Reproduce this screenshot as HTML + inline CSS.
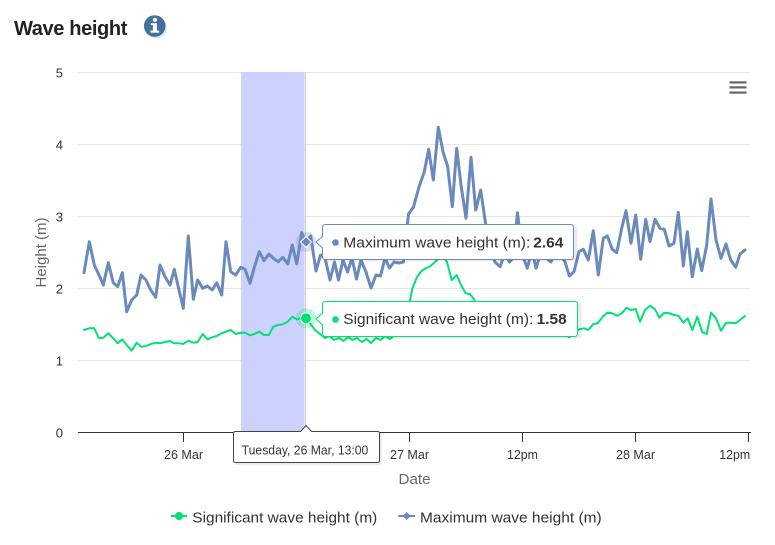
<!DOCTYPE html>
<html>
<head>
<meta charset="utf-8">
<style>
html,body{margin:0;padding:0;background:#fff;}
svg{display:block;font-family:"Liberation Sans",Arial,sans-serif;}
</style>
</head>
<body>
<svg width="775" height="545" viewBox="0 0 775 545" xmlns="http://www.w3.org/2000/svg">
<rect x="0" y="0" width="775" height="545" fill="#fff"/>

<!-- Title -->
<text x="14" y="35" font-size="20" font-weight="bold" fill="#222" letter-spacing="-0.4" textLength="113" lengthAdjust="spacingAndGlyphs">Wave height</text>
<!-- info icon -->
<circle cx="156" cy="27.5" r="10.8" fill="#000" opacity="0.12"/>
<circle cx="154.7" cy="26" r="10.8" fill="#41719c"/>
<circle cx="154.9" cy="19.8" r="2.1" fill="#fff"/>
<rect x="152.9" y="23.2" width="4" height="8.2" fill="#fff"/>
<rect x="150.8" y="23.2" width="3" height="1.8" fill="#fff"/>
<rect x="150.6" y="30.6" width="8.6" height="2.1" fill="#fff"/>

<!-- menu icon -->
<rect x="729.5" y="81.3" width="17" height="2.2" fill="#666"/>
<rect x="729.5" y="86.3" width="17" height="2.2" fill="#666"/>
<rect x="729.5" y="91.5" width="17" height="2.2" fill="#666"/>

<!-- gridlines -->
<g stroke="#e6e6e6" stroke-width="1">
<line x1="78" y1="72.5" x2="750" y2="72.5"/>
<line x1="78" y1="144.5" x2="750" y2="144.5"/>
<line x1="78" y1="216.5" x2="750" y2="216.5"/>
<line x1="78" y1="288.5" x2="750" y2="288.5"/>
<line x1="78" y1="360.5" x2="750" y2="360.5"/>
</g>

<!-- plot band -->
<rect x="241" y="72" width="63.5" height="360" fill="#ccd1fe"/>
<!-- crosshair -->
<line x1="305.5" y1="72" x2="305.5" y2="432" stroke="#cccccc" stroke-width="1"/>

<!-- y labels -->
<g font-size="13" fill="#333" text-anchor="end">
<text x="63" y="77.5">5</text>
<text x="63" y="149.5">4</text>
<text x="63" y="221.5">3</text>
<text x="63" y="293.5">2</text>
<text x="63" y="365.5">1</text>
<text x="63" y="437.5">0</text>
</g>
<text transform="translate(46,252.5) rotate(-90)" font-size="15" fill="#666" text-anchor="middle">Height (m)</text>

<!-- series: significant (green) -->
<polyline fill="none" stroke="#00e272" stroke-width="2" stroke-linejoin="round" stroke-linecap="round" points="84,330 89.3,328.3 94.3,328.3 99,338.3 103.3,337.7 108.3,333.3 113.3,338.3 117.7,343.3 122.3,339.3 126.7,345 131.7,350.7 136.7,342.7 141,346.7 146,346 150.7,344 155.7,342.7 160,343.3 165,342 170,341 174.3,343.3 179,343.3 183.3,344 188.3,340.7 193.3,342.7 197.7,342 202.7,334 207.3,339.3 212.3,337.3 216.7,336 221.7,333.3 226,331.7 230.7,330 235.7,334 240.7,332.7 245,332.7 250,335.3 254.3,334 259.3,331.7 264,335 269,335 273.3,326.7 278.3,325 282.7,324.3 287.7,321.7 292.3,316.7 296.7,319.3 301.7,318.3 306,318 310.5,324 315,330 320,334 325,338 329.5,336 334,340 339,338 343.5,341 348,337 352.5,340 357,338 362,342 366.5,339 371,343 376,338 380.5,340 385,336 390,339 394.5,335 399,332 403.5,326 408,310 412.5,288 417,277 421.5,271 426,268 430.5,266 435,262 439.5,258 444,257 447,262 451.7,280 456.7,275 461,285 465.7,293.3 470,294 475,300.7 480,310 485,318 490,322 495,326 500,324 505,328 510,325 515,330 520,327 525,331 530,328 535,332 540,329 545,333 550,330 555,334 560,331 565,335 569.3,337.3 574,333.3 579,329.3 584,328.3 588.3,330 593.3,324 597.7,323.3 602.7,316.7 607.3,312.7 612.3,313.3 617.3,315.7 621.7,313.3 626.7,307.7 631,310 635.7,309 640,321.7 645,310 650,305.7 655,309.3 659.3,317.7 664.3,312.7 669.3,313.3 674,315 678.3,315.7 683.3,322.7 687.7,318.3 692.3,330 697.3,316.7 702.3,332.3 706.7,334 711,312.7 716,318.3 721,330.7 726,322.7 730.7,322.7 735.7,323.3 740,320 745,316"/>

<!-- series: maximum (blue) -->
<polyline fill="none" stroke="#6b8abc" stroke-width="3" stroke-linejoin="round" stroke-linecap="round" points="84,272.7 89.3,241.7 94.3,265 99,275 103.3,285 108.3,262.7 113.3,282.7 117.7,286.7 122.3,272.7 126.7,311.7 131.7,300 136.7,295 141,275 146,280 150.7,290 155.7,297.3 160,265 165,276.7 170,285 174.3,269.3 179,290 183.3,308.3 188.3,236 193.3,299.3 197.7,280 202.7,288.3 207.3,286 212.3,290 216.7,282.7 221.7,295 226,241.7 230.7,271.7 235.7,275 240.7,267.3 245,269.3 250,283.3 254.3,267.3 259.3,251.7 264,260.7 269,254 273.3,258.3 278.3,261.7 282.7,257.3 287.7,264 292.3,245 296.7,264 301.7,232.7 306,242 310.7,236 316,271 320.5,255 325,258 330,280 334.5,262 338.5,280 343,260 347.5,272 352,258 356.5,279 361,260 366,272 371,288 376,275 380.5,276 385,258 389.5,268 394,262 399,263 403.5,262 408.5,214 413.5,207 419,187 424.3,171.7 428.7,149.3 433.3,180 438.3,127.3 443,151.7 447.7,166.7 452.3,206.7 456.7,148.3 461,185 466,218.3 471,157.3 475.7,210 480.7,190 485.5,223.3 490,250 495,262 500,266.7 505,253 509.5,262 513,258 517.5,212.7 522.5,255 527.3,268.3 532,250 536,268.3 541,252 546,258 551,262 555.5,250 560,255 565,261.7 569.3,276 574,271.7 579,251.7 583.3,249.3 588.3,260 593.3,230.7 598.3,275 603.3,238.3 607.3,236 612.3,249.3 616.7,252.7 621.7,228.3 626,210.7 631,243.3 635.7,215 640.7,259.3 645.7,219.3 650,241.7 655,219.3 660,228.3 664.3,229.3 669,246 674,243.3 678.3,212.3 683.3,266 687.3,231.7 692.3,276.7 697.3,249 701.7,270.7 706.7,245 711,199 716,240 721,258.3 726,244 730.7,260 735.7,267.3 740,254 745,250"/>

<!-- x axis -->
<line x1="78" y1="432.5" x2="751" y2="432.5" stroke="#333" stroke-width="1"/>
<g stroke="#333" stroke-width="1">
<line x1="183.5" y1="432" x2="183.5" y2="442"/>
<line x1="409.5" y1="432" x2="409.5" y2="442"/>
<line x1="522.5" y1="432" x2="522.5" y2="442"/>
<line x1="635.5" y1="432" x2="635.5" y2="442"/>
<line x1="748.5" y1="432" x2="748.5" y2="442"/>
</g>
<g font-size="13" fill="#333" text-anchor="middle">
<text x="183.5" y="459" textLength="39" lengthAdjust="spacingAndGlyphs">26 Mar</text>
<text x="409.5" y="459" textLength="39" lengthAdjust="spacingAndGlyphs">27 Mar</text>
<text x="522.5" y="459" textLength="31" lengthAdjust="spacingAndGlyphs">12pm</text>
<text x="635.5" y="459" textLength="39" lengthAdjust="spacingAndGlyphs">28 Mar</text>
<text x="734.7" y="459" textLength="31" lengthAdjust="spacingAndGlyphs">12pm</text>
</g>
<text x="414.5" y="484" font-size="15" fill="#666" text-anchor="middle" textLength="32" lengthAdjust="spacingAndGlyphs">Date</text>

<!-- hover markers -->
<circle cx="306" cy="242" r="10" fill="#6b8abc" opacity="0.25"/>
<path d="M306,236.5 L311.5,242 L306,247.5 L300.5,242 Z" fill="#6b8abc" stroke="#fff" stroke-width="1"/>
<circle cx="306" cy="318.2" r="10" fill="#00e272" opacity="0.25"/>
<circle cx="306" cy="318.2" r="5.5" fill="#00e272" stroke="#fff" stroke-width="1"/>

<!-- tooltip: max -->
<path d="M325.5,225.5 L573.5,225.5 Q576.5,225.5 576.5,228.5 L576.5,257.5 Q576.5,260.5 573.5,260.5 L325.5,260.5 Q322.5,260.5 322.5,257.5 L322.5,249 L316,243 L322.5,237.5 L322.5,228.5 Q322.5,225.5 325.5,225.5 Z" fill="#000" opacity="0.08" transform="translate(1,1)"/>
<path d="M325.5,224.5 L570.5,224.5 Q573.5,224.5 573.5,227.5 L573.5,256.5 Q573.5,259.5 570.5,259.5 L325.5,259.5 Q322.5,259.5 322.5,256.5 L322.5,248 L316,242 L322.5,236.5 L322.5,227.5 Q322.5,224.5 325.5,224.5 Z" fill="#fff" stroke="#6b8abc" stroke-width="1"/>
<circle cx="335.5" cy="242.5" r="3.3" fill="#6b8abc"/>
<text x="343.3" y="247.3" font-size="15" fill="#333" textLength="187" lengthAdjust="spacingAndGlyphs">Maximum wave height (m):</text>
<text x="533.3" y="247.3" font-size="15" font-weight="bold" fill="#333" textLength="30" lengthAdjust="spacingAndGlyphs">2.64</text>

<!-- tooltip: significant -->
<path d="M325.5,302.5 L577.5,302.5 Q580.5,302.5 580.5,305.5 L580.5,334.5 Q580.5,337.5 577.5,337.5 L325.5,337.5 Q322.5,337.5 322.5,334.5 L322.5,326 L316,320 L322.5,314 L322.5,305.5 Q322.5,302.5 325.5,302.5 Z" fill="#000" opacity="0.08" transform="translate(1,1)"/>
<path d="M325.5,301.5 L574.5,301.5 Q577.5,301.5 577.5,304.5 L577.5,333.5 Q577.5,336.5 574.5,336.5 L325.5,336.5 Q322.5,336.5 322.5,333.5 L322.5,325 L316,319 L322.5,313 L322.5,304.5 Q322.5,301.5 325.5,301.5 Z" fill="#fff" stroke="#00e272" stroke-width="1"/>
<circle cx="335.5" cy="319.5" r="3.3" fill="#00e272"/>
<text x="343.3" y="324" font-size="15" fill="#333" textLength="190" lengthAdjust="spacingAndGlyphs">Significant wave height (m):</text>
<text x="536.7" y="324" font-size="15" font-weight="bold" fill="#333" textLength="30" lengthAdjust="spacingAndGlyphs">1.58</text>

<!-- date tooltip -->
<path d="M236.5,432.5 L300.5,432.5 L306,426 L311.5,432.5 L379.5,432.5 Q381.5,432.5 381.5,434.5 L381.5,462.5 Q381.5,464.5 379.5,464.5 L236.5,464.5 Q234.5,464.5 234.5,462.5 L234.5,434.5 Q234.5,432.5 236.5,432.5 Z" fill="#000" opacity="0.08" transform="translate(0.5,0.5)"/>
<path d="M235.5,431.5 L300.5,431.5 L306,425.5 L311.5,431.5 L377.5,431.5 Q379.5,431.5 379.5,433.5 L379.5,460.5 Q379.5,462.5 377.5,462.5 L235.5,462.5 Q233.5,462.5 233.5,460.5 L233.5,433.5 Q233.5,431.5 235.5,431.5 Z" fill="#fff" stroke="#444" stroke-width="1"/>
<text x="305" y="454.3" font-size="13" fill="#333" text-anchor="middle" textLength="126.7" lengthAdjust="spacingAndGlyphs">Tuesday, 26 Mar, 13:00</text>

<!-- legend -->
<line x1="171" y1="516" x2="187" y2="516" stroke="#00e272" stroke-width="2"/>
<circle cx="179" cy="516" r="4" fill="#00e272"/>
<text x="192.3" y="522.5" font-size="15" fill="#333" textLength="185" lengthAdjust="spacingAndGlyphs">Significant wave height (m)</text>
<line x1="398.3" y1="516" x2="415" y2="516" stroke="#6b8abc" stroke-width="2"/>
<path d="M406.7,512 L410.7,516 L406.7,520 L402.7,516 Z" fill="#6b8abc"/>
<text x="420" y="522.5" font-size="15" fill="#333" textLength="181.7" lengthAdjust="spacingAndGlyphs">Maximum wave height (m)</text>
</svg>
</body>
</html>
